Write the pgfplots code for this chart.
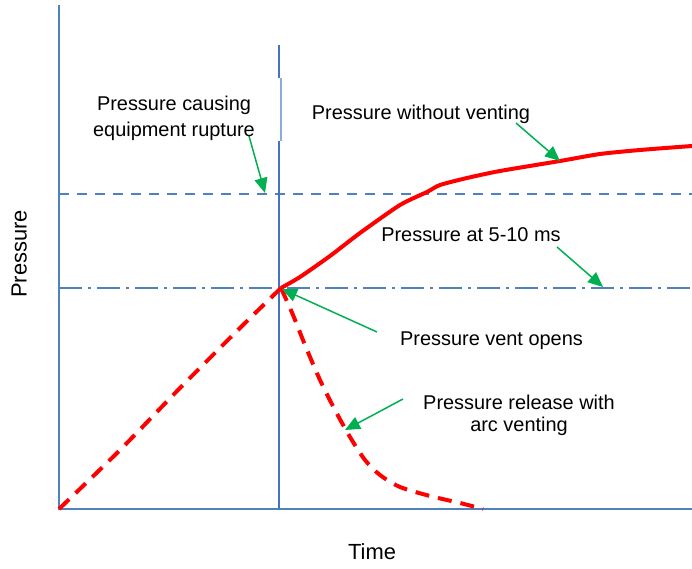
\documentclass[border=0pt]{standalone}
\usepackage{fontspec}
\setmainfont{Liberation Sans}
\usepackage{pgfplots}
\pgfplotsset{compat=1.18}
\usetikzlibrary{arrows.meta}
\definecolor{ared}{HTML}{FF0000}
\definecolor{agreen}{HTML}{00B050}
\definecolor{ablue}{HTML}{4F81BD}
\definecolor{vblue}{HTML}{4472C4}
\definecolor{lblue}{HTML}{8EAADB}
\begin{document}
\begin{tikzpicture}
\begin{axis}[scale only axis, width=316.5bp, height=252bp,
  xmin=59, xmax=692, ymin=0, ymax=504, hide axis, clip=false]
% reference lines
\addplot[ablue, line width=1.2bp, dash pattern=on 5bp off 4bp] coordinates {(59,315) (692,315)};
\addplot[ablue, line width=1.2bp, dash pattern=on 11.5bp off 3bp on 1.5bp off 3bp] coordinates {(59,221) (692,221)};
% axes
\draw[ablue, line width=1.1bp] (axis cs:59,504) -- (axis cs:59,0) -- (axis cs:692,0);
% vertical line
\draw[vblue, line width=1bp] (axis cs:279,464) -- (axis cs:279,431);
\draw[lblue, line width=0.8bp] (axis cs:280.7,431) -- (axis cs:280.7,368);
\draw[vblue, line width=1bp] (axis cs:279,368) -- (axis cs:279,0);
% curves
\addplot[ared, line width=2bp, dash pattern=on 7bp off 4.5bp, smooth] coordinates {
(59,0) (120,59) (180,121) (240,181) (281,221)};
\addplot[ared, line width=2bp, dash pattern=on 7bp off 4.5bp, smooth] coordinates {
(281,221) (293,194) (305,164) (320,129) (335,99) (350,72) (365,49) (380,34) (400,22) (430,13) (460,6) (483,0)};
\addplot[ared, line width=2bp, smooth, tension=0.4] coordinates {
(281,221) (300,232) (330,253) (360,276) (400,304) (427,317) (440,324) (467,331) (500,338) (560,348) (600,355) (640,359) (692,363)};
% arrows
\tikzset{garr/.style={agreen, line width=0.75bp, -{Triangle[length=7.5bp,width=6.5bp]}}}
\draw[garr] (axis cs:249,373) -- (axis cs:265,316);
\draw[garr] (axis cs:516,386) -- (axis cs:560,348);
\draw[garr] (axis cs:557,262) -- (axis cs:603,222);
\draw[garr] (axis cs:377,177) -- (axis cs:282,220);
\draw[garr] (axis cs:403,110) -- (axis cs:345,79);
% texts
\tikzset{lab/.style={anchor=base, inner sep=0pt, font=\fontsize{10}{12}\selectfont}}
\node[lab] at (axis cs:174,398) {Pressure causing};
\node[lab] at (axis cs:174,372.5) {equipment rupture};
\node[lab] at (axis cs:421,389) {Pressure without venting};
\node[lab] at (axis cs:471,267.5) {Pressure at 5-10 ms};
\node[lab] at (axis cs:491.5,163.5) {Pressure vent opens};
\node[lab] at (axis cs:519,99) {Pressure release with};
\node[lab] at (axis cs:519,77.5) {arc venting};
\node[lab, font=\fontsize{11}{13}\selectfont] at (axis cs:372,-50.3) {Time};
\node[lab, rotate=90, font=\fontsize{11}{13}\selectfont] at (axis cs:26.7,255) {Pressure};
\coordinate (BL) at (axis cs:0,-60);
\coordinate (TR) at (axis cs:692,509);
\end{axis}
\pgfresetboundingbox
\path[use as bounding box] (BL) rectangle (TR);
\end{tikzpicture}
\end{document}
